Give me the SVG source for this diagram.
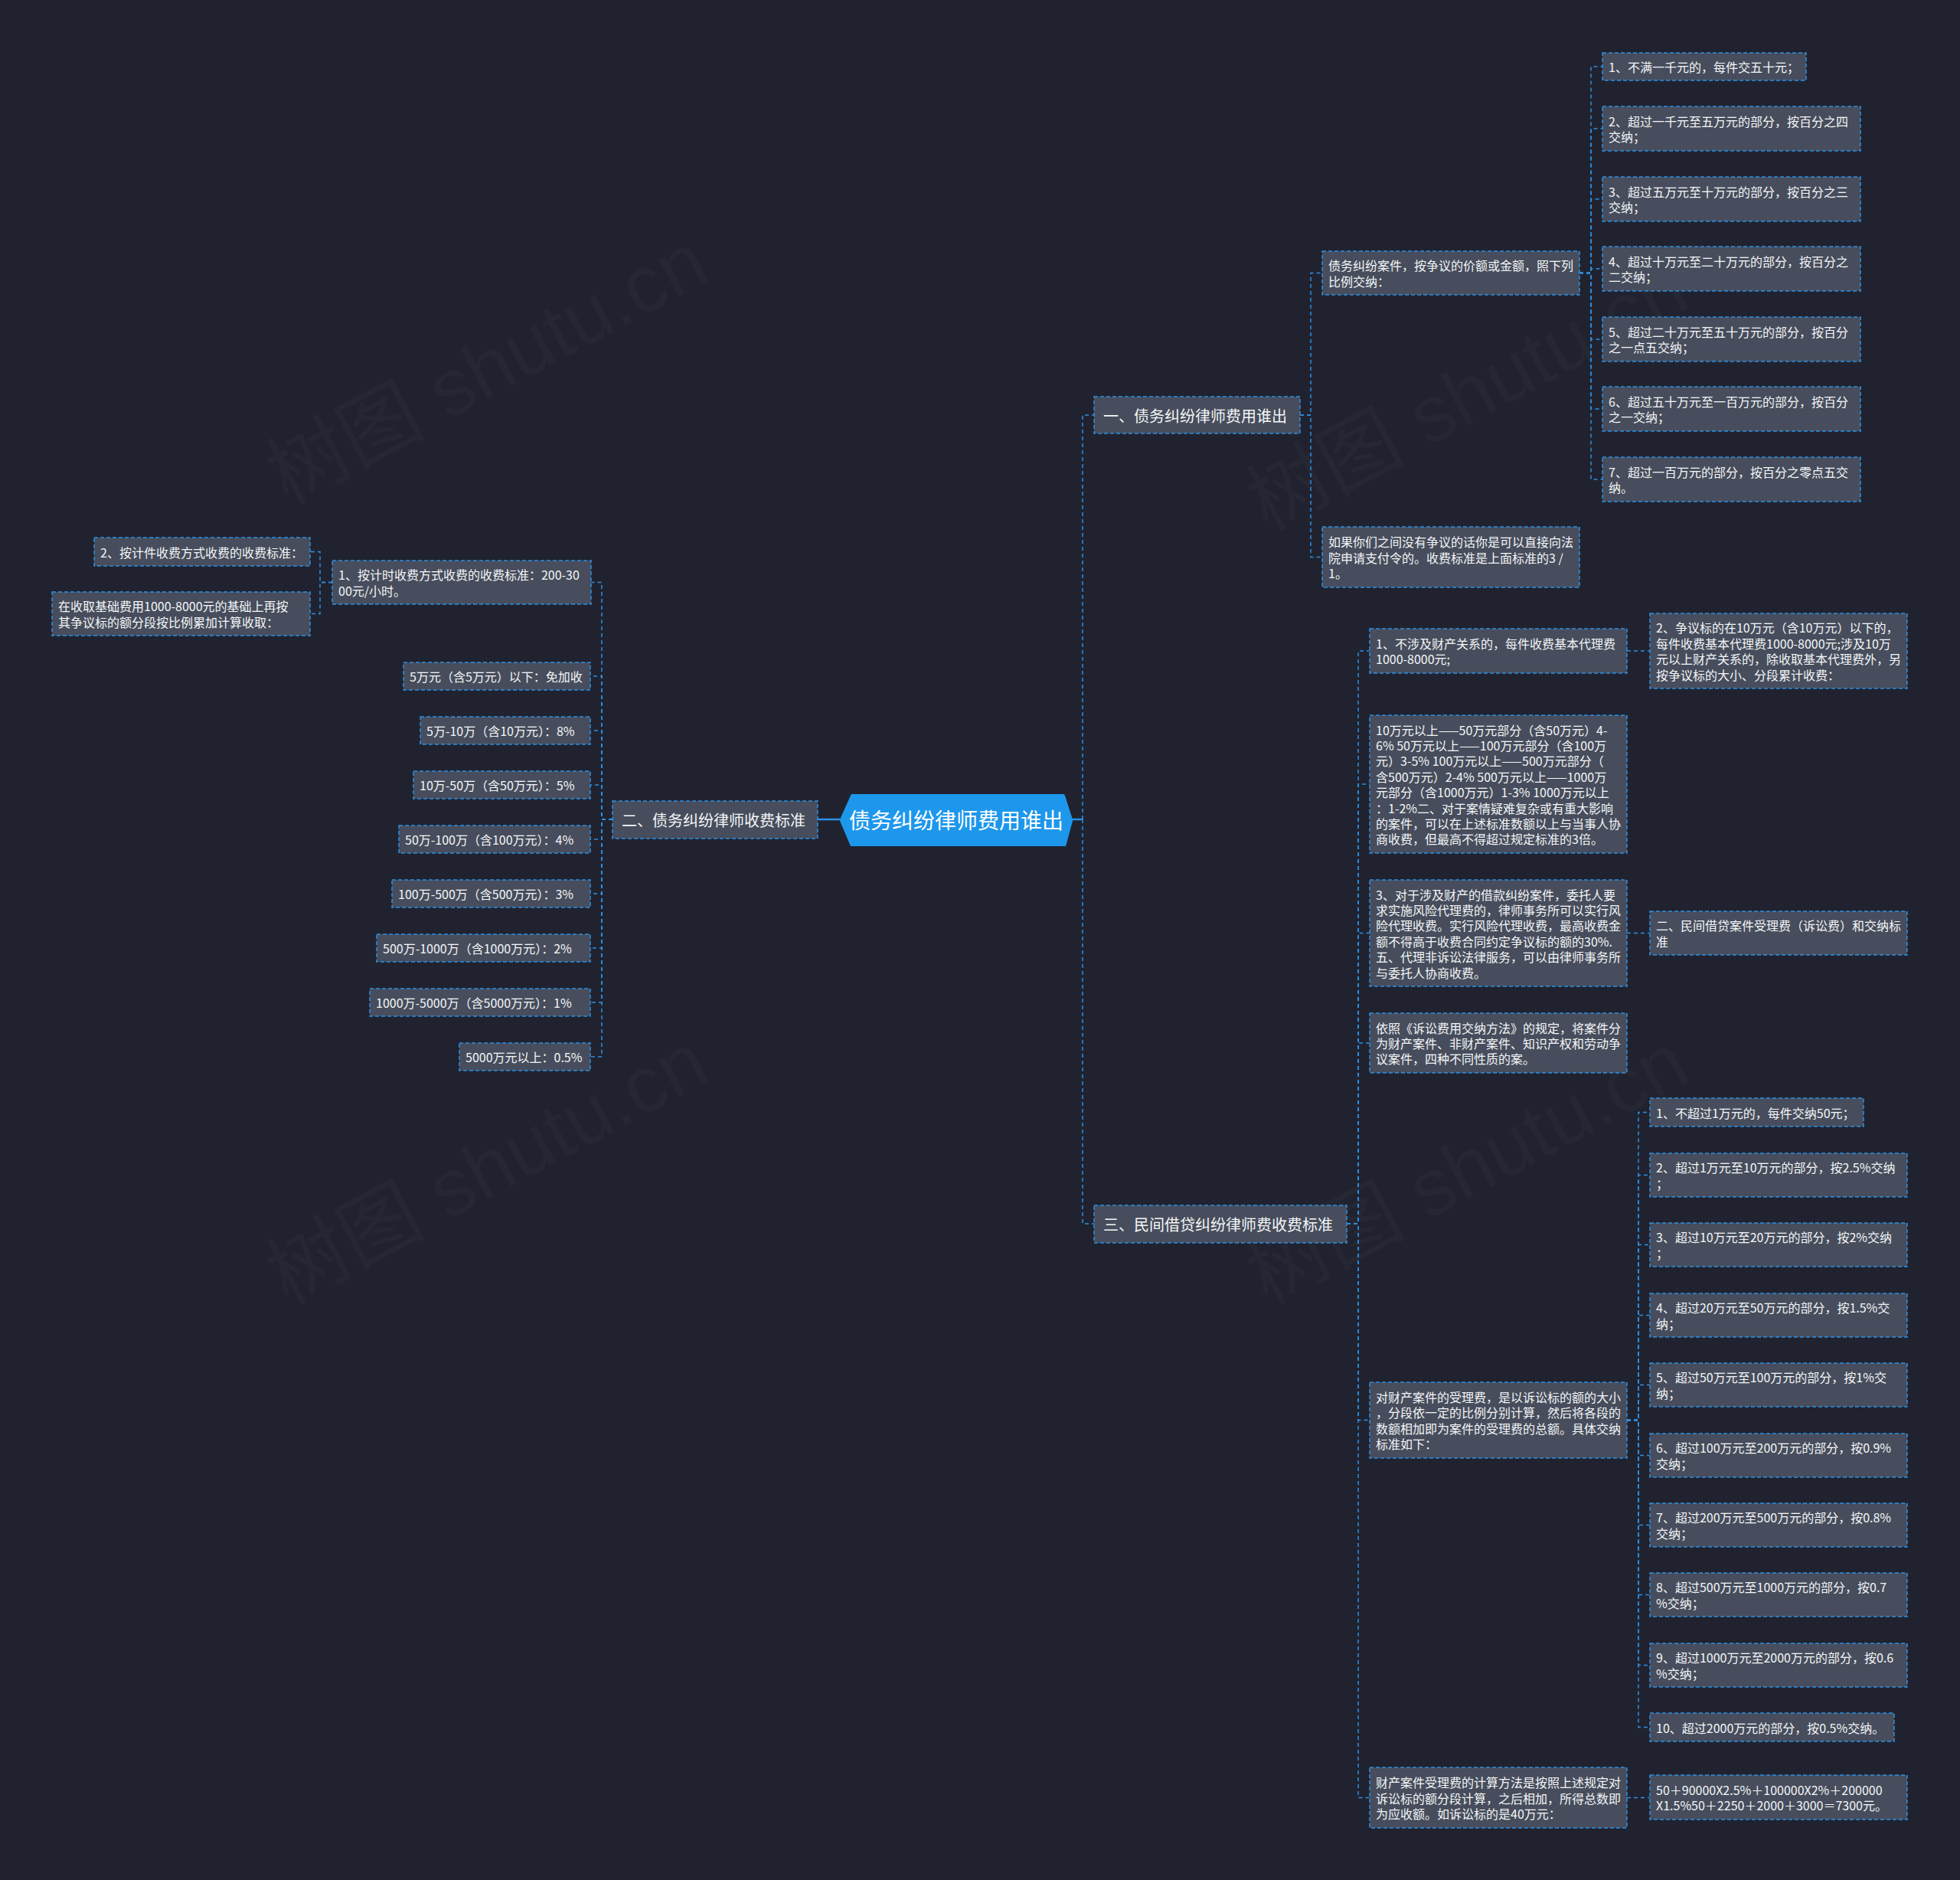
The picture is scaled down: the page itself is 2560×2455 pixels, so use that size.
<svg xmlns="http://www.w3.org/2000/svg" width="2560" height="2455" viewBox="0 0 2560 2455">
<style>
.bg{fill:#20232f}
.wm{fill:#ffffff;fill-opacity:0.024;font-family:"Liberation Sans","Noto Sans CJK SC",sans-serif;font-size:104px}
.node rect{fill:#474d5c;stroke:#2d8fe2;stroke-width:1.5;stroke-dasharray:5 3}
.node text,.node tspan{fill:#f4f6f8;font-family:"Noto Sans CJK SC","Noto Sans",sans-serif;font-size:16px;dominant-baseline:central}
.l1 text,.l1 tspan{font-size:20px}
.root polygon{fill:#1d97ec}
.root text{fill:#ffffff;font-family:"Noto Sans CJK SC","Noto Sans",sans-serif;font-size:28px;dominant-baseline:central;text-anchor:middle}
.c path{fill:none;stroke:#2d8fe2;stroke-width:1.5;stroke-dasharray:5 4}
.c path.solid{stroke-dasharray:none;stroke-width:2.5}
</style>
<rect class="bg" x="0" y="0" width="2560" height="2455"/>
<g id="watermarks">
<text class="wm" transform="translate(375,660) rotate(-28)">树图 shutu.cn</text>
<text class="wm" transform="translate(375,1705) rotate(-28)">树图 shutu.cn</text>
<text class="wm" transform="translate(1655,695) rotate(-28)">树图 shutu.cn</text>
<text class="wm" transform="translate(1655,1705) rotate(-28)">树图 shutu.cn</text>
</g>
<g id="connectors" class="c">
<path class="solid" d="M1401,1070 H1414"/>
<path class="solid" d="M1097,1070 H1068"/>
<path d="M1414,1070 V542 H1429"/>
<path d="M1414,1070 V1598 H1429"/>
<path d="M1698,542 H1712 V356.5 H1727"/>
<path d="M1698,542 H1712 V727.5 H1727"/>
<path d="M2063,356.5 H2078 V87 H2093"/>
<path d="M2063,356.5 H2078 V168 H2093"/>
<path d="M2063,356.5 H2078 V260 H2093"/>
<path d="M2063,356.5 H2078 V351 H2093"/>
<path d="M2063,356.5 H2078 V443 H2093"/>
<path d="M2063,356.5 H2078 V534 H2093"/>
<path d="M2063,356.5 H2078 V626 H2093"/>
<path d="M800,1070 H786 V760.5 H772"/>
<path d="M800,1070 H786 V883 H771"/>
<path d="M800,1070 H786 V954 H771"/>
<path d="M800,1070 H786 V1025 H771"/>
<path d="M800,1070 H786 V1096 H771"/>
<path d="M800,1070 H786 V1167 H771"/>
<path d="M800,1070 H786 V1238 H771"/>
<path d="M800,1070 H786 V1309 H771"/>
<path d="M800,1070 H786 V1380 H771"/>
<path d="M434,760.5 H418 V720.5 H405"/>
<path d="M434,760.5 H418 V801.5 H405"/>
<path d="M1759,1598 H1774 V850 H1789"/>
<path d="M1759,1598 H1774 V1024 H1789"/>
<path d="M1759,1598 H1774 V1218.5 H1789"/>
<path d="M1759,1598 H1774 V1362 H1789"/>
<path d="M1759,1598 H1774 V1854.5 H1789"/>
<path d="M1759,1598 H1774 V2347.5 H1789"/>
<path d="M2125,850 H2155"/>
<path d="M2125,1218.5 H2155"/>
<path d="M2125,2347.5 H2155"/>
<path d="M2125,1854.5 H2140 V1452.5 H2155"/>
<path d="M2125,1854.5 H2140 V1534.5 H2155"/>
<path d="M2125,1854.5 H2140 V1625.5 H2155"/>
<path d="M2125,1854.5 H2140 V1717.5 H2155"/>
<path d="M2125,1854.5 H2140 V1808.5 H2155"/>
<path d="M2125,1854.5 H2140 V1900.5 H2155"/>
<path d="M2125,1854.5 H2140 V1991.5 H2155"/>
<path d="M2125,1854.5 H2140 V2082.5 H2155"/>
<path d="M2125,1854.5 H2140 V2174.5 H2155"/>
<path d="M2125,1854.5 H2140 V2255.5 H2155"/>
</g>
<g id="root" class="root">
<polygon points="1097,1072 1111,1039 1391,1039 1401,1072 1392,1105 1111,1105" fill="#175ea3"/>
<polygon points="1097,1070 1112,1037 1390,1037 1401,1070 1392,1103 1111,1103"/>
<text x="1249" y="1070">债务纠纷律师费用谁出</text>
</g>
<g id="n1" class="node l1"><rect x="1429" y="518" width="269" height="48"/><text x="1441" y="542">一、债务纠纷律师费用谁出</text></g>
<g id="n2" class="node l1"><rect x="800" y="1046" width="268" height="49"/><text x="812" y="1070.5">二、债务纠纷律师收费标准</text></g>
<g id="n3" class="node l1"><rect x="1429" y="1574" width="330" height="49"/><text x="1441" y="1598.5">三、民间借贷纠纷律师费收费标准</text></g>

<g id="n1a" class="node"><rect x="1727" y="328" width="336" height="57"/><text><tspan x="1735" y="346.3">债务纠纷案件，按争议的价额或金额，照下列</tspan><tspan x="1735" y="366.7">比例交纳：</tspan></text></g>
<g id="n1b" class="node"><rect x="1727" y="688" width="336" height="79"/><text><tspan x="1735" y="707.1">如果你们之间没有争议的话你是可以直接向法</tspan><tspan x="1735" y="727.5">院申请支付令的。收费标准是上面标准的3 /</tspan><tspan x="1735" y="747.9">1。</tspan></text></g>

<g id="n1a1" class="node"><rect x="2093" y="69" width="266" height="36"/><text x="2101" y="87">1、不满一千元的，每件交五十元；</text></g>
<g id="n1a2" class="node"><rect x="2093" y="139" width="337" height="58"/><text><tspan x="2101" y="157.8">2、超过一千元至五万元的部分，按百分之四</tspan><tspan x="2101" y="178.2">交纳；</tspan></text></g>
<g id="n1a3" class="node"><rect x="2093" y="231" width="337" height="58"/><text><tspan x="2101" y="249.8">3、超过五万元至十万元的部分，按百分之三</tspan><tspan x="2101" y="270.2">交纳；</tspan></text></g>
<g id="n1a4" class="node"><rect x="2093" y="322" width="337" height="58"/><text><tspan x="2101" y="340.8">4、超过十万元至二十万元的部分，按百分之</tspan><tspan x="2101" y="361.2">二交纳；</tspan></text></g>
<g id="n1a5" class="node"><rect x="2093" y="414" width="337" height="58"/><text><tspan x="2101" y="432.8">5、超过二十万元至五十万元的部分，按百分</tspan><tspan x="2101" y="453.2">之一点五交纳；</tspan></text></g>
<g id="n1a6" class="node"><rect x="2093" y="505" width="337" height="58"/><text><tspan x="2101" y="523.8">6、超过五十万元至一百万元的部分，按百分</tspan><tspan x="2101" y="544.2">之一交纳；</tspan></text></g>
<g id="n1a7" class="node"><rect x="2093" y="597" width="337" height="58"/><text><tspan x="2101" y="615.8">7、超过一百万元的部分，按百分之零点五交</tspan><tspan x="2101" y="636.2">纳。</tspan></text></g>

<g id="n2a" class="node"><rect x="434" y="732" width="338" height="57"/><text><tspan x="442" y="750.3">1、按计时收费方式收费的收费标准：200-30</tspan><tspan x="442" y="770.7">00元/小时。</tspan></text></g>
<g id="n2a1" class="node"><rect x="123" y="702" width="282" height="37"/><text x="131" y="720.5">2、按计件收费方式收费的收费标准：</text></g>
<g id="n2a2" class="node"><rect x="68" y="773" width="337" height="57"/><text><tspan x="76" y="791.3">在收取基础费用1000-8000元的基础上再按</tspan><tspan x="76" y="811.7">其争议标的额分段按比例累加计算收取：</tspan></text></g>
<g id="n2b" class="node"><rect x="527" y="865" width="244" height="36"/><text x="535" y="883">5万元（含5万元）以下：免加收</text></g>
<g id="n2c" class="node"><rect x="549" y="936" width="222" height="36"/><text x="557" y="954">5万-10万（含10万元）：8%</text></g>
<g id="n2d" class="node"><rect x="540" y="1007" width="231" height="36"/><text x="548" y="1025">10万-50万（含50万元）：5%</text></g>
<g id="n2e" class="node"><rect x="521" y="1078" width="250" height="36"/><text x="529" y="1096">50万-100万（含100万元）：4%</text></g>
<g id="n2f" class="node"><rect x="512" y="1149" width="259" height="36"/><text x="520" y="1167">100万-500万（含500万元）：3%</text></g>
<g id="n2g" class="node"><rect x="492" y="1220" width="279" height="36"/><text x="500" y="1238">500万-1000万（含1000万元）：2%</text></g>
<g id="n2h" class="node"><rect x="483" y="1291" width="288" height="36"/><text x="491" y="1309">1000万-5000万（含5000万元）：1%</text></g>
<g id="n2i" class="node"><rect x="600" y="1362" width="171" height="36"/><text x="608" y="1380">5000万元以上：0.5%</text></g>

<g id="n3a" class="node"><rect x="1789" y="821" width="336" height="58"/><text><tspan x="1797" y="839.8">1、不涉及财产关系的，每件收费基本代理费</tspan><tspan x="1797" y="860.2">1000-8000元;</tspan></text></g>
<g id="n3a1" class="node"><rect x="2155" y="801" width="336" height="98"/><text><tspan x="2163" y="819.4">2、争议标的在10万元（含10万元）以下的，</tspan><tspan x="2163" y="839.8">每件收费基本代理费1000-8000元;涉及10万</tspan><tspan x="2163" y="860.2">元以上财产关系的，除收取基本代理费外，另</tspan><tspan x="2163" y="880.6">按争议标的大小、分段累计收费：</tspan></text></g>
<g id="n3b" class="node"><rect x="1789" y="934" width="336" height="180"/><text><tspan x="1797" y="952.6">10万元以上——50万元部分（含50万元）4-</tspan><tspan x="1797" y="973">6% 50万元以上——100万元部分（含100万</tspan><tspan x="1797" y="993.4">元）3-5% 100万元以上——500万元部分（</tspan><tspan x="1797" y="1013.8">含500万元）2-4% 500万元以上——1000万</tspan><tspan x="1797" y="1034.2">元部分（含1000万元）1-3% 1000万元以上</tspan><tspan x="1797" y="1054.6">：1-2%二、对于案情疑难复杂或有重大影响</tspan><tspan x="1797" y="1075">的案件，可以在上述标准数额以上与当事人协</tspan><tspan x="1797" y="1095.4">商收费，但最高不得超过规定标准的3倍。</tspan></text></g>
<g id="n3c" class="node"><rect x="1789" y="1149" width="336" height="139"/><text><tspan x="1797" y="1167.5">3、对于涉及财产的借款纠纷案件，委托人要</tspan><tspan x="1797" y="1187.9">求实施风险代理费的，律师事务所可以实行风</tspan><tspan x="1797" y="1208.3">险代理收费。实行风险代理收费，最高收费金</tspan><tspan x="1797" y="1228.7">额不得高于收费合同约定争议标的额的30%.</tspan><tspan x="1797" y="1249.1">五、代理非诉讼法律服务，可以由律师事务所</tspan><tspan x="1797" y="1269.5">与委托人协商收费。</tspan></text></g>
<g id="n3c1" class="node"><rect x="2155" y="1190" width="336" height="57"/><text><tspan x="2163" y="1208.3">二、民间借贷案件受理费（诉讼费）和交纳标</tspan><tspan x="2163" y="1228.7">准</tspan></text></g>
<g id="n3d" class="node"><rect x="1789" y="1323" width="336" height="78"/><text><tspan x="1797" y="1341.6">依照《诉讼费用交纳方法》的规定，将案件分</tspan><tspan x="1797" y="1362">为财产案件、非财产案件、知识产权和劳动争</tspan><tspan x="1797" y="1382.4">议案件，四种不同性质的案。</tspan></text></g>
<g id="n3e" class="node"><rect x="1789" y="1805" width="336" height="99"/><text><tspan x="1797" y="1823.9">对财产案件的受理费，是以诉讼标的额的大小</tspan><tspan x="1797" y="1844.3">，分段依一定的比例分别计算，然后将各段的</tspan><tspan x="1797" y="1864.7">数额相加即为案件的受理费的总额。具体交纳</tspan><tspan x="1797" y="1885.1">标准如下：</tspan></text></g>
<g id="n3f" class="node"><rect x="1789" y="2308" width="336" height="79"/><text><tspan x="1797" y="2327.1">财产案件受理费的计算方法是按照上述规定对</tspan><tspan x="1797" y="2347.5">诉讼标的额分段计算，之后相加，所得总数即</tspan><tspan x="1797" y="2367.9">为应收额。如诉讼标的是40万元：</tspan></text></g>
<g id="n3f1" class="node"><rect x="2155" y="2318" width="336" height="58"/><text><tspan x="2163" y="2336.8">50＋90000X2.5%＋100000X2%＋200000</tspan><tspan x="2163" y="2357.2">X1.5%50＋2250＋2000＋3000＝7300元。</tspan></text></g>

<g id="n3e1" class="node"><rect x="2155" y="1434" width="279" height="37"/><text x="2163" y="1452.5">1、不超过1万元的，每件交纳50元；</text></g>
<g id="n3e2" class="node"><rect x="2155" y="1506" width="336" height="57"/><text><tspan x="2163" y="1524.3">2、超过1万元至10万元的部分，按2.5%交纳</tspan><tspan x="2163" y="1544.7">；</tspan></text></g>
<g id="n3e3" class="node"><rect x="2155" y="1597" width="336" height="57"/><text><tspan x="2163" y="1615.3">3、超过10万元至20万元的部分，按2%交纳</tspan><tspan x="2163" y="1635.7">；</tspan></text></g>
<g id="n3e4" class="node"><rect x="2155" y="1689" width="336" height="57"/><text><tspan x="2163" y="1707.3">4、超过20万元至50万元的部分，按1.5%交</tspan><tspan x="2163" y="1727.7">纳；</tspan></text></g>
<g id="n3e5" class="node"><rect x="2155" y="1780" width="336" height="57"/><text><tspan x="2163" y="1798.3">5、超过50万元至100万元的部分，按1%交</tspan><tspan x="2163" y="1818.7">纳；</tspan></text></g>
<g id="n3e6" class="node"><rect x="2155" y="1872" width="336" height="57"/><text><tspan x="2163" y="1890.3">6、超过100万元至200万元的部分，按0.9%</tspan><tspan x="2163" y="1910.7">交纳；</tspan></text></g>
<g id="n3e7" class="node"><rect x="2155" y="1963" width="336" height="57"/><text><tspan x="2163" y="1981.3">7、超过200万元至500万元的部分，按0.8%</tspan><tspan x="2163" y="2001.7">交纳；</tspan></text></g>
<g id="n3e8" class="node"><rect x="2155" y="2054" width="336" height="57"/><text><tspan x="2163" y="2072.3">8、超过500万元至1000万元的部分，按0.7</tspan><tspan x="2163" y="2092.7">%交纳；</tspan></text></g>
<g id="n3e9" class="node"><rect x="2155" y="2146" width="336" height="57"/><text><tspan x="2163" y="2164.3">9、超过1000万元至2000万元的部分，按0.6</tspan><tspan x="2163" y="2184.7">%交纳；</tspan></text></g>
<g id="n3e10" class="node"><rect x="2155" y="2237" width="319" height="37"/><text x="2163" y="2255.5">10、超过2000万元的部分，按0.5%交纳。</text></g>
</svg>
